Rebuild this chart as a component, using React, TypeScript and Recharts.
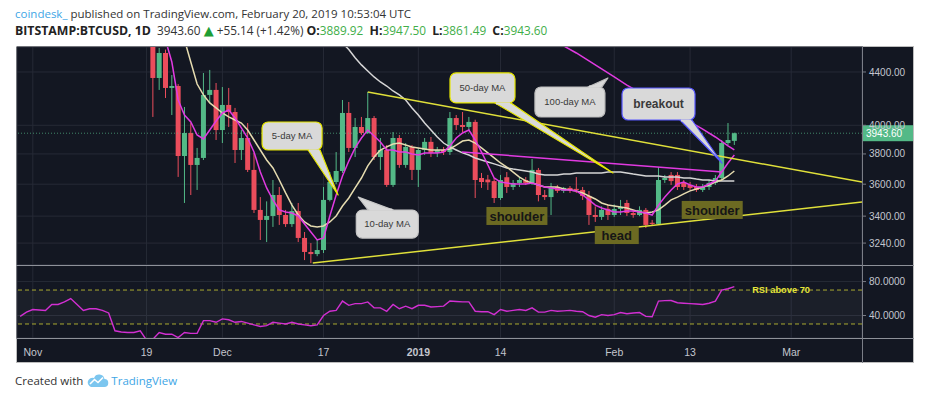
import React from "react";
import {
  ComposedChart,
  Bar,
  Line,
  XAxis,
  YAxis,
  CartesianGrid,
  ReferenceLine,
  ReferenceDot,
  ReferenceArea,
} from "recharts";

// ---------- data ----------
const DAYS = [19,20,21,22,23,24,25,26,27,28,29,30,31,32,33,34,35,36,37,38,39,40,41,42,43,44,45,46,47,48,49,50,51,52,53,54,55,56,57,58,59,60,61,62,63,64,65,66,67,68,69,70,71,72,73,74,75,76,77,78,79,80,81,82,83,84,85,86,87,88,89,90,91,92,93,94,95,96,97,98,99,100,101,102,103,104,105,106,107,108,109,110,111];
const OPEN = [4750,4353,4552,4276,4291,3786,3945,3726,3773,4223,4261,3966,4148,4096,3827,3910,3693,3438,3377,3401,3531,3407,3352,3431,3270,3189,3177,3200,3500,3614,3686,4089,3841,3988,3945,4052,3779,3827,3595,3910,3726,3848,3693,3827,3883,3807,3827,3813,4052,4002,3988,4024,3640,3630,3620,3512,3645,3582,3608,3627,3608,3693,3531,3518,3582,3557,3576,3570,3563,3525,3407,3395,3445,3407,3444,3481,3419,3407,3438,3360,3353,3627,3660,3660,3608,3595,3582,3563,3582,3608,3640,3875,3889.92];
const HIGH = [4850,4593,4580,4376,4306,4133,4016,3841,4392,4416,4314,4283,4276,4126,3966,4016,3807,3518,3491,3627,3582,3438,3481,3481,3305,3240,3258,3582,3679,3813,4185,4170,4052,4060,4245,4067,3910,3861,3952,3931,3875,3861,3841,3910,3917,3848,3848,4096,4074,4096,4060,4040,3673,3660,3640,3660,3679,3627,3646,3646,3766,3706,3563,3608,3595,3582,3588,3646,3582,3556,3460,3460,3472,3472,3500,3500,3438,3460,3450,3377,3712,3660,3679,3679,3627,3614,3601,3601,3627,3660,3896,4016,3947.5];
const LOW = [4060,4261,4200,4074,3647,3481,3531,3563,3759,4163,3896,3875,3988,3739,3759,3679,3419,3258,3246,3335,3347,3335,3335,3246,3143,3126,3165,3183,3491,3600,3673,3813,3779,3931,3938,3759,3693,3582,3582,3707,3707,3627,3582,3793,3779,3779,3793,3793,3966,3952,3966,3512,3576,3563,3481,3500,3544,3563,3582,3595,3595,3491,3500,3407,3544,3544,3544,3544,3500,3347,3365,3377,3377,3395,3407,3401,3390,3400,3329,3341,3347,3608,3595,3563,3563,3563,3550,3550,3563,3595,3627,3861,3861.49];
const CLOSE = [4353,4552,4276,4291,3786,3945,3726,3773,4223,4261,3966,4148,4096,3827,3910,3693,3438,3377,3401,3531,3407,3352,3431,3270,3189,3177,3200,3500,3614,3686,4089,3841,3988,3945,4052,3779,3827,3595,3910,3726,3848,3693,3827,3883,3807,3827,3813,4052,4002,3988,4024,3627,3614,3612,3512,3627,3582,3608,3627,3608,3693,3531,3518,3582,3557,3576,3563,3563,3525,3407,3395,3438,3407,3444,3456,3419,3407,3438,3347,3353,3627,3640,3620,3582,3582,3576,3563,3582,3608,3640,3875,3896,3943.6];
const LAST_PRICE = 3943.6;

const MA5 = [[21,4659],[22,4479],[23,4185],[24,4074],[25,4024],[26,3931],[27,3903],[28,3966],[29,4031],[30,4089],[31,4111],[32,4052],[33,3981],[34,3910],[35,3813],[36,3679],[37,3576],[38,3500],[39,3438],[40,3425],[41,3419],[42,3401],[43,3353],[44,3305],[45,3258],[46,3270],[47,3401],[48,3531],[49,3653],[50,3752],[51,3841],[52,3910],[53,3966],[54,3924],[55,3882],[56,3827],[57,3827],[58,3813],[59,3813],[60,3800],[61,3793],[62,3807],[63,3807],[64,3807],[65,3813],[66,3855],[67,3910],[68,3945],[69,3966],[70,3896],[71,3813],[72,3726],[73,3640],[74,3614],[75,3608],[76,3601],[77,3601],[78,3601],[79,3608],[80,3595],[81,3582],[82,3576],[83,3569],[84,3563],[85,3563],[86,3557],[87,3531],[88,3500],[89,3468],[90,3450],[91,3438],[92,3425],[93,3425],[94,3431],[95,3431],[96,3425],[97,3419],[98,3407],[99,3468],[100,3518],[101,3563],[102,3601],[103,3614],[104,3595],[105,3582],[106,3582],[107,3601],[108,3621],[109,3679],[110,3739],[111,3793]];
const MA10 = [[24,4659],[25,4479],[26,4306],[27,4223],[28,4163],[29,4126],[30,4089],[31,4060],[32,4038],[33,4016],[34,3966],[35,3896],[36,3827],[37,3759],[38,3706],[39,3627],[40,3544],[41,3468],[42,3407],[43,3365],[44,3341],[45,3335],[46,3341],[47,3365],[48,3401],[49,3462],[50,3512],[51,3576],[52,3640],[53,3720],[54,3779],[55,3827],[56,3848],[57,3868],[58,3875],[59,3861],[60,3848],[61,3841],[62,3834],[63,3827],[64,3827],[65,3827],[66,3834],[67,3861],[68,3889],[69,3896],[70,3875],[71,3841],[72,3807],[73,3773],[74,3739],[75,3712],[76,3679],[77,3646],[78,3621],[79,3608],[80,3595],[81,3582],[82,3582],[83,3582],[84,3569],[85,3563],[86,3557],[87,3544],[88,3525],[89,3506],[90,3481],[91,3468],[92,3462],[93,3456],[94,3450],[95,3438],[96,3425],[97,3419],[98,3425],[99,3438],[100,3468],[101,3500],[102,3518],[103,3538],[104,3557],[105,3569],[106,3582],[107,3595],[108,3614],[109,3627],[110,3653],[111,3686]];
const MA50 = [[49,4634],[50,4580],[51,4513],[52,4456],[53,4408],[54,4361],[55,4322],[56,4291],[57,4253],[58,4223],[59,4185],[60,4126],[61,4074],[62,4016],[63,3966],[64,3917],[65,3875],[66,3848],[67,3827],[68,3807],[69,3793],[70,3773],[71,3759],[72,3746],[73,3733],[74,3720],[75,3706],[76,3699],[77,3693],[78,3686],[79,3679],[80,3666],[81,3660],[82,3660],[83,3660],[84,3666],[85,3666],[86,3673],[87,3673],[88,3673],[89,3673],[90,3673],[91,3679],[92,3679],[93,3679],[94,3673],[95,3666],[96,3660],[97,3653],[98,3653],[99,3653],[100,3646],[101,3646],[102,3646],[103,3640],[104,3640],[105,3633],[106,3627],[107,3627],[108,3621],[109,3621],[110,3621],[111,3621]];
const MA100 = [[84,4610],[86,4552],[88,4488],[90,4424],[92,4361],[94,4298],[96,4245],[98,4185],[100,4126],[102,4074],[104,4024],[106,3973],[108,3917],[110,3855],[111,3827]];

const TOP_TREND = [[53,4245],[131.2,3614]];
const BOTTOM_TREND = [[44.3,3126],[131.2,3487]];
const NECKLINE = [[67.9,3814],[109.05,3679]];

const RSI_START = -2;
const RSI = [39,44,47,46.5,46,53,53,56,60,53,46,48,48,46,43,22,20.5,20,20,22,11,12,20,18,18,14,20,19,19,34,34,32,36,35,32,33,31,29,27,28,32,31,30,32,30,29,28,29,40,45,46,57,52,54,54,56,49,49,45,53,48,51,48,52,52,50,50.5,51,57,56.5,56,56,45,44.5,44.5,41,47,45,46,47,46,49,44,44,46,45,45.5,46,45,44.5,40,38,41,40,41,43.5,42,43,43.5,39,38.5,57,57.5,57.6,55,54.5,54,53.5,53,54.5,57,70,71.5,74];

const X_TICKS = [0,18,30,46,61,74,92,104,120];
const X_LABELS = ["Nov","19","Dec","17","2019","14","Feb","13","Mar"];
const PRICE_TICKS = [3240,3400,3600,3800,4000,4400];
const RSI_TICKS = [40,80];

// ---------- derived tables ----------
const candleData = DAYS.map((d, k) => ({
  i: d, o: OPEN[k], h: HIGH[k], l: LOW[k], c: CLOSE[k], range: [LOW[k], HIGH[k]],
}));
const toSeries = (pairs: number[][]) => pairs.map(([i, v]) => ({ i, v }));
const rsiData = RSI.map((v, k) => ({ i: RSI_START + k, v }));

// ---------- style ----------
const X_DOMAIN: [number, number] = [-2.5, 131.2];
const PRICE_DOMAIN: [number, number] = [3115.5, 4601];
const RSI_DOMAIN: [number, number] = [13.5, 99.5];
const UP = "#53b987";
const DOWN = "#eb4d5c";
const GRID = "#262a36";
const AXIS_TEXT = "#c3c6ce";
const AXIS_FONT = "'Liberation Sans', Arial, sans-serif";
const UI_FONT = "'Open Sans', 'Noto Sans', sans-serif";
const MAGENTA = "#e13ae1";
const YELLOW = "#e0e03a";
const BODY_W = 5;

const Candle = (props: any) => {
  const { x, y, width, height, payload } = props;
  if (!payload || !isFinite(y) || !isFinite(height) || !isFinite(x)) return null;
  const { o, h, l, c } = payload;
  const color = c >= o ? UP : DOWN;
  const lh = Math.log(h);
  const span = lh - Math.log(l) || 1;
  const py = (p: number) => y + ((lh - Math.log(p)) / span) * height;
  const top = py(Math.max(o, c));
  const bottom = py(Math.min(o, c));
  const mid = x + (width || 0) / 2;
  return (
    <g>
      <line x1={mid} x2={mid} y1={y} y2={y + height} stroke={color} strokeWidth={1} />
      <rect x={mid - BODY_W / 2} y={top} width={BODY_W} height={Math.max(1, bottom - top)} fill={color} />
    </g>
  );
};

const PriceTag = (props: any) => {
  const vb = props.viewBox || {};
  const x = (vb.x ?? 0) + (vb.width ?? 0);
  const y = vb.y ?? 0;
  return (
    <g>
      <rect x={x} y={y - 8} width={51} height={16} fill={UP} />
      <text x={x + 4} y={y} dy="0.36em" fill="#ffffff" fontSize={10} style={{ fontFamily: AXIS_FONT }}>
        {LAST_PRICE.toFixed(2)}
      </text>
    </g>
  );
};

type BubbleSpec = {
  box: [number, number, number, number];
  tail: [number, number, number];
  text: string;
  stroke: string;
  size: number;
  weight: string;
};

const Bubble = ({ cx, cy, spec }: { cx: number; cy: number; spec: BubbleSpec }) => {
  if (!isFinite(cx) || !isFinite(cy)) return null;
  const [x0, y0, x1, y1] = spec.box;
  const [t0, t1, ty] = spec.tail;
  const inward = ty === y0 ? 1 : -1;
  const tail = `${cx + t0},${cy + ty} ${cx},${cy} ${cx + t1},${cy + ty}`;
  const fill = "#d9d9d9";
  return (
    <g>
      <polygon points={tail} fill={fill} stroke={spec.stroke} strokeWidth={1.2} strokeLinejoin="round" />
      <rect x={cx + x0} y={cy + y0} width={x1 - x0} height={y1 - y0} rx={6} fill={fill} stroke={spec.stroke} strokeWidth={1.2} />
      <rect
        x={cx + t0 + 1}
        y={cy + ty - (inward > 0 ? 1.5 : 0.5)}
        width={t1 - t0 - 2}
        height={2}
        fill={fill}
      />
      <text
        x={cx + (x0 + x1) / 2}
        y={cy + (y0 + y1) / 2}
        dy="0.35em"
        textAnchor="middle"
        fontSize={spec.size}
        fontWeight={spec.weight}
        fill="#3a3a3a"
        style={{ fontFamily: AXIS_FONT }}
      >
        {spec.text}
      </text>
    </g>
  );
};

const Tag = ({ cx, cy, text, w }: { cx: number; cy: number; text: string; w: number }) => {
  if (!isFinite(cx) || !isFinite(cy)) return null;
  return (
    <g>
      <rect x={cx - w / 2} y={cy - 9} width={w} height={18} fill="#6c6a22" />
      <text x={cx} y={cy} dy="0.36em" textAnchor="middle" fontSize={13} fontWeight="bold" fill="#161616" style={{ fontFamily: AXIS_FONT }}>
        {text}
      </text>
    </g>
  );
};

const B5: BubbleSpec = { box: [-76, -73, -16, -45], tail: [-30, -18, -45], text: "5-day MA", stroke: "#e6e600", size: 9.5, weight: "normal" };
const B10: BubbleSpec = { box: [-2, 13, 60, 41], tail: [10, 35, 13], text: "10-day MA", stroke: "#c8c8c8", size: 9.5, weight: "normal" };
const B50: BubbleSpec = { box: [-163, -100, -98, -70], tail: [-118, -102, -70], text: "50-day MA", stroke: "#e6e600", size: 9.5, weight: "normal" };
const B100: BubbleSpec = { box: [-73, 9, -3, 39], tail: [-20, -6, 9], text: "100-day MA", stroke: "#bdbdbd", size: 9.5, weight: "normal" };
const BBREAK: BubbleSpec = { box: [-100, -75, -27, -43], tail: [-42, -30, -43], text: "breakout", stroke: "#5656ff", size: 12, weight: "bold" };

const XTick = (props: any) => {
  const { x, y, payload } = props;
  const idx = X_TICKS.indexOf(payload.value);
  const label = idx >= 0 ? X_LABELS[idx] : "";
  return (
    <text x={x} y={y + 10} textAnchor="middle" fontSize={10.5} fill={AXIS_TEXT} fontWeight={label === "2019" ? "bold" : "normal"} style={{ fontFamily: AXIS_FONT }}>
      {label}
    </text>
  );
};

const lineProps = { type: "linear" as const, dot: false, activeDot: false, isAnimationActive: false, dataKey: "v" };

export default function App() {
  const green = { color: "#3fae49" };
  const bold = { fontWeight: 700, fontSize: 12.3, color: "#222" };
  return (
    <div style={{ position: "absolute", left: 0, top: 0, width: 940, height: 402, background: "#ffffff", overflow: "hidden" }}>
      <div style={{ position: "absolute", left: 15, top: 7, fontFamily: UI_FONT, fontSize: 11.5, lineHeight: "14px", color: "#333", whiteSpace: "nowrap" }}>
        <span style={{ color: "#3ea6e6" }}>coindesk_</span> published on TradingView.com, February 20, 2019 10:53:04 UTC
      </div>
      <div style={{ position: "absolute", left: 15, top: 23, fontFamily: UI_FONT, fontSize: 11.8, lineHeight: "15px", color: "#333", whiteSpace: "nowrap" }}>
        <span style={bold}>BITSTAMP:BTCUSD, 1D</span>&nbsp; 3943.60 <span style={{ color: "#1e9e34", fontSize: 13, fontFamily: "'DejaVu Sans', sans-serif" }}>▲</span> +55.14 (+1.42%)&nbsp;
        <span style={bold}>O:</span><span style={green}>3889.92</span>&nbsp; <span style={bold}>H:</span><span style={green}>3947.50</span>&nbsp; <span style={bold}>L:</span><span style={green}>3861.49</span>&nbsp;{" "}
        <span style={bold}>C:</span><span style={green}>3943.60</span>
      </div>

      <div style={{ position: "absolute", left: 16, top: 46, width: 898, height: 317, boxSizing: "border-box", border: "1px solid #bdbdbd", background: "#131722" }} />

      <div style={{ position: "absolute", left: 0, top: 0 }}>
        <ComposedChart width={940} height={402} data={candleData} margin={{ top: 47, right: 26, bottom: 137, left: 17 }}>
          <CartesianGrid stroke={GRID} strokeWidth={1} />
          <XAxis dataKey="i" type="number" domain={X_DOMAIN} ticks={X_TICKS} allowDataOverflow hide />
          <YAxis
            orientation="right"
            type="number"
            scale="log"
            domain={PRICE_DOMAIN}
            ticks={PRICE_TICKS}
            allowDataOverflow
            width={52}
            axisLine={false}
            tickLine={{ stroke: "#787b86" }}
            tickSize={4}
            tickMargin={3}
            tick={{ fill: AXIS_TEXT, fontSize: 10, fontFamily: AXIS_FONT }}
            tickFormatter={(v: number) => v.toFixed(2)}
          />
          <ReferenceLine y={LAST_PRICE} stroke={UP} strokeOpacity={0.7} strokeDasharray="1 2" label={<PriceTag />} />
          <Bar dataKey="range" barSize={5} isAnimationActive={false} shape={(p: any) => <Candle {...p} />} />
          <Line {...lineProps} data={toSeries(MA50)} stroke="#d6d6d6" strokeWidth={1.5} />
          <Line {...lineProps} data={toSeries(MA100)} stroke={MAGENTA} strokeWidth={1.5} />
          <Line {...lineProps} data={toSeries(MA10)} stroke="#e6dcb0" strokeWidth={1.5} />
          <Line {...lineProps} data={toSeries(MA5)} stroke={MAGENTA} strokeWidth={1.5} />
          <Line {...lineProps} data={toSeries(NECKLINE)} stroke={MAGENTA} strokeWidth={1.5} />
          <Line {...lineProps} data={toSeries(TOP_TREND)} stroke={YELLOW} strokeWidth={1.5} />
          <Line {...lineProps} data={toSeries(BOTTOM_TREND)} stroke={YELLOW} strokeWidth={1.5} />
          <ReferenceDot x={76.6} y={3401} shape={(p: any) => <Tag cx={p.cx} cy={p.cy} text="shoulder" w={61} />} />
          <ReferenceDot x={92.4} y={3287} shape={(p: any) => <Tag cx={p.cx} cy={p.cy} text="head" w={44} />} />
          <ReferenceDot x={107.5} y={3438} shape={(p: any) => <Tag cx={p.cx} cy={p.cy} text="shoulder" w={61} />} />
          <ReferenceDot x={48.3} y={3531} shape={(p: any) => <Bubble cx={p.cx} cy={p.cy} spec={B5} />} />
          <ReferenceDot x={51.5} y={3518} shape={(p: any) => <Bubble cx={p.cx} cy={p.cy} spec={B10} />} />
          <ReferenceDot x={91.8} y={3673} shape={(p: any) => <Bubble cx={p.cx} cy={p.cy} spec={B50} />} />
          <ReferenceDot x={91.0} y={4353} shape={(p: any) => <Bubble cx={p.cx} cy={p.cy} spec={B100} />} />
          <ReferenceDot x={109.05} y={3739} shape={(p: any) => <Bubble cx={p.cx} cy={p.cy} spec={BBREAK} />} />
        </ComposedChart>
      </div>

      <div style={{ position: "absolute", left: 0, top: 0 }}>
        <ComposedChart width={940} height={402} data={rsiData} margin={{ top: 265, right: 26, bottom: 40, left: 17 }}>
          <ReferenceArea y1={30} y2={70} fill="#ffffff" fillOpacity={0.035} stroke="none" />
          <CartesianGrid stroke={GRID} strokeWidth={1} />
          <XAxis
            dataKey="i"
            type="number"
            domain={X_DOMAIN}
            ticks={X_TICKS}
            interval={0}
            allowDataOverflow
            height={24}
            axisLine={false}
            tickLine={false}
            tick={(p: any) => <XTick {...p} />}
          />
          <YAxis
            orientation="right"
            type="number"
            domain={RSI_DOMAIN}
            ticks={RSI_TICKS}
            allowDataOverflow
            width={52}
            axisLine={false}
            tickLine={{ stroke: "#787b86" }}
            tickSize={4}
            tickMargin={3}
            tick={{ fill: AXIS_TEXT, fontSize: 10, fontFamily: AXIS_FONT }}
            tickFormatter={(v: number) => v.toFixed(4)}
          />
          <ReferenceLine y={70} stroke="#a9a930" strokeDasharray="4 3" />
          <ReferenceLine y={30} stroke="#a9a930" strokeDasharray="4 3" />
          <Line type="linear" dataKey="v" stroke="#d22fd2" strokeWidth={1.4} dot={false} activeDot={false} isAnimationActive={false} />
          <ReferenceDot
            x={118.4}
            y={70}
            shape={(p: any) =>
              isFinite(p.cx) ? (
                <text x={p.cx} y={p.cy} dy="0.3em" textAnchor="middle" fontSize={9.3} fontWeight="bold" fill="#e4e43a" style={{ fontFamily: AXIS_FONT }}>
                  RSI above 70
                </text>
              ) : null
            }
          />
        </ComposedChart>
      </div>

      <div style={{ position: "absolute", left: 16, top: 265, width: 898, height: 1, background: "#8e9199" }} />
      <div style={{ position: "absolute", left: 16, top: 338, width: 898, height: 1, background: "#8e9199" }} />
      <div style={{ position: "absolute", left: 862, top: 46, width: 1, height: 317, background: "#7b7e87" }} />

      <div style={{ position: "absolute", left: 15, top: 373, fontFamily: UI_FONT, fontSize: 11.5, lineHeight: "16px", color: "#333", whiteSpace: "nowrap", display: "flex", alignItems: "center" }}>
        <span>Created with</span>
        <svg width={22} height={14} viewBox="0 0 22 14" style={{ margin: "0 2px 0 4px" }}>
          <path d="M4 13 H17 A4 4 0 0 0 17.5 5 A5.5 5.5 0 0 0 7 4 A4.5 4.5 0 0 0 4 13 Z" fill="#7cc6ef" />
          <polyline points="3,10 7.5,5.5 11,8.5 16,3.5" fill="none" stroke="#ffffff" strokeWidth={1.6} />
        </svg>
        <span style={{ color: "#3ea6e6" }}>TradingView</span>
      </div>
    </div>
  );
}
